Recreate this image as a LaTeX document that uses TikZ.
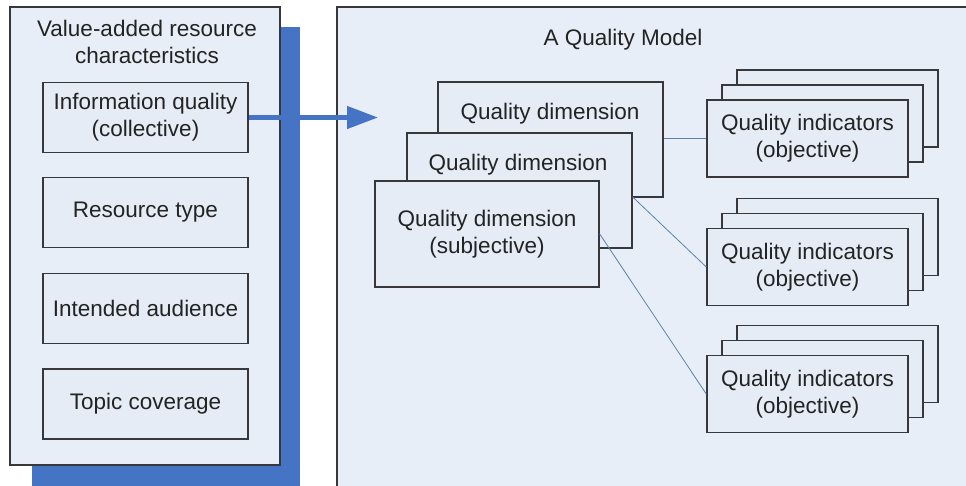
\documentclass[tikz,border=0pt]{standalone}
\usepackage{fontspec}
\setmainfont{Liberation Sans}
\usetikzlibrary{arrows.meta,calc}
\definecolor{panelfill}{RGB}{232,238,247}
\definecolor{boxfill}{RGB}{230,236,246}
\definecolor{edgegray}{RGB}{55,55,60}
\definecolor{shadowblue}{RGB}{70,116,196}
\definecolor{linkblue}{RGB}{95,128,168}
\definecolor{textgray}{RGB}{35,35,35}
\tikzset{
  panel/.style={draw=edgegray, fill=panelfill, line width=1.4pt, inner sep=0pt},
  itembox/.style={draw=edgegray, fill=boxfill, line width=1.4pt, inner sep=0pt,
    minimum width=205pt, minimum height=70pt, align=center, text=textgray},
  dimbox/.style={draw=edgegray, fill=boxfill, line width=1.4pt, inner sep=0pt,
    minimum width=225pt, align=center, text=textgray},
  indbox/.style={draw=edgegray, fill=boxfill, line width=1.4pt, inner sep=0pt,
    minimum width=201pt, minimum height=77pt, align=center, text=textgray},
  caption/.style={inner sep=0pt, align=center, text=textgray},
  link/.style={draw=linkblue, line width=0.8pt},
  bigarrow/.style={draw=shadowblue, line width=4.5pt,
    -{Triangle[length=31pt,width=22pt]}},
}
\begin{document}
\begin{tikzpicture}[x=1pt,y=-1pt,
  every node/.style={font=\fontsize{22.5}{27}\selectfont}]
\useasboundingbox (0,0) rectangle (966,485);
\clip (0,0) rectangle (966,485);
\fill[white] (0,0) rectangle (966,485);

% left column: shadow, panel and its four items
\fill[shadowblue] (32,27) rectangle (300,495);
\node[panel, minimum width=270pt, minimum height=458pt] (left) at (145,236) {};
\node[caption] (lefttitle) at (147,41.5) {Value-added resource\\characteristics};
\node[itembox] (info) at (145.5,117.5) {Information quality\\(collective)};
\node[itembox] (restype) at (145.5,212.5) {Resource type};
\node[itembox] (audience) at (145.5,308.5) {Intended audience};
\node[itembox] (topic) at (145.5,404) {Topic coverage};

% right panel holding the quality model
\node[panel, minimum width=640pt, minimum height=500pt] (right) at (657,257) {};
\node[caption] (modeltitle) at (623,40) {A Quality Model};

% stacked quality dimensions
\node[dimbox, minimum height=115pt] (qdback) at (550.5,139.5) {};
\node[caption] (qdbacktext) at (550,114) {Quality dimension};
\node[dimbox, minimum height=115pt] (qdmid) at (519.5,190.5) {};
\node[caption] (qdmidtext) at (518,165) {Quality dimension};
\node[dimbox, minimum width=224pt, minimum height=106pt] (qdfront) at (487,234)
  {Quality dimension\\(subjective)};

% stacked quality indicators
\foreach \k/\cy in {1/138.5, 2/267, 3/394} {
  \node[indbox] (qi\k c) at (837.5,\cy-30) {};
  \node[indbox] (qi\k b) at (822.5,\cy-15) {};
  \node[indbox] (qi\k) at (807.5,\cy) {Quality indicators\\(objective)};
}

% links from dimensions to indicators
\draw[link] (qi1.west) -- (qi1.west -| qdback.east);
\draw[link] ([yshift=-6.5pt]qdmid.east) -- (qi2.west);
\draw[link] (qdfront.east) -- (qi3.west);

% characteristics feed the model
\coordinate (arrowtip) at (378,117.5);
\draw[bigarrow] (info.east) -- (arrowtip);
\end{tikzpicture}
\end{document}
